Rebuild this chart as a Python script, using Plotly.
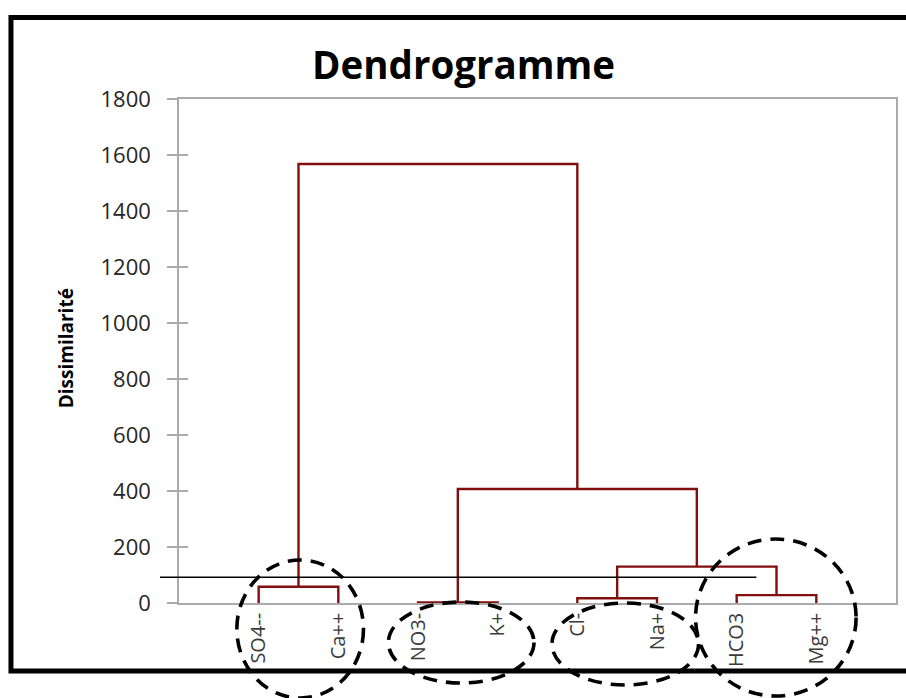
import plotly.graph_objects as go

# Leaves in dendrogram order
leaves = ["SO4--", "Ca++", "NO3-", "K+", "Cl-", "Na+", "HCO3", "Mg++"]

# Agglomeration steps (scipy-style: index < n is a leaf, index >= n is an earlier merge)
merge_left = [0, 2, 4, 6, 10, 9, 8]
merge_right = [1, 3, 5, 7, 11, 12, 13]
merge_height = [58, 2, 17, 28, 130, 407, 1568]

# Truncation level
cut_level = 92

y_ticks = [0, 200, 400, 600, 800, 1000, 1200, 1400, 1600, 1800]

# Geometry of the plotting area in pixels
W, H = 906, 698
L, R, T, B = 179, 898, 99, 603


def px(x):
    return (x - L) / (R - L)


def py(y):
    return (B - y) / (B - T)


n = len(leaves)
pos = {i: float(i) for i in range(n)}
hgt = {i: 0.0 for i in range(n)}

LINK = "#820f0f"
fig = go.Figure()
for k, (a, b, h) in enumerate(zip(merge_left, merge_right, merge_height)):
    xa, xb = pos[a], pos[b]
    fig.add_trace(go.Scatter(
        x=[xa, xa, xb, xb], y=[hgt[a], h, h, hgt[b]],
        mode="lines", line=dict(color=LINK, width=2.4),
        hoverinfo="skip", showlegend=False, cliponaxis=False,
    ))
    pos[n + k] = (xa + xb) / 2
    hgt[n + k] = h

# invisible trace carrying the inner half of the y tick marks
fig.add_trace(go.Scatter(x=[0], y=[0], yaxis="y2", mode="markers",
                         marker=dict(opacity=0), hoverinfo="skip", showlegend=False))

GRID = "#ababab"
fig.update_layout(
    width=W, height=H, autosize=False,
    margin=dict(l=L, r=W - R, t=T, b=H - B, pad=0),
    paper_bgcolor="white", plot_bgcolor="white",
    font=dict(family="Open Sans", color="#262626"),
    xaxis=dict(
        range=[-1, n], tickmode="array", tickvals=list(range(n)), ticktext=leaves,
        tickangle=-90, ticks="", showgrid=False, zeroline=False,
        showline=True, linecolor=GRID, linewidth=1.5, mirror=True,
        tickfont=dict(family="Open Sans", size=20, color="#3a3a3a"),
    ),
    yaxis=dict(
        range=[0, 1800], tickmode="array", tickvals=y_ticks,
        ticks="outside", ticklen=10, tickcolor=GRID, tickwidth=1.5,
        showgrid=False, zeroline=False,
        showline=True, linecolor=GRID, linewidth=1.5, mirror=True,
        tickfont=dict(family="Open Sans", size=22, color="#262626"),
        ticklabelstandoff=12,
    ),
    yaxis2=dict(
        range=[0, 1800], overlaying="y", side="left", tickmode="array", tickvals=y_ticks,
        ticks="inside", ticklen=9, tickcolor=GRID, tickwidth=1.5,
        showticklabels=False, showgrid=False, zeroline=False, showline=False,
    ),
)

shapes = [
    # outer frame of the chart
    dict(type="rect", xref="paper", yref="paper",
         x0=px(10.5), x1=px(915), y0=py(671), y1=py(17.5),
         line=dict(color="black", width=5), layer="above"),
    # truncation line
    dict(type="line", xref="paper", yref="y", x0=px(160), x1=px(758),
         y0=cut_level, y1=cut_level, line=dict(color="black", width=1.6), layer="above"),
]

# dashed ellipses around the four groups
groups = [(237, 364, 560, 698), (389, 535, 602, 683), (553, 700, 603, 685), (697, 858, 539, 696)]
for x0, x1, y0, y1 in groups:
    shapes.append(dict(type="circle", xref="paper", yref="paper",
                       x0=px(x0), x1=px(x1), y0=py(y1), y1=py(y0),
                       line=dict(color="black", width=3.6, dash="14px,9px"), layer="above"))
fig.update_layout(shapes=shapes)

fig.add_annotation(text="<b>Dendrogramme</b>", xref="paper", yref="paper",
                   x=px(464), y=py(64), xanchor="center", yanchor="middle",
                   showarrow=False, font=dict(family="Open Sans", size=38.5, color="black"))
fig.add_annotation(text="<b>Dissimilarité</b>", xref="paper", yref="paper",
                   x=px(66), y=py(348), xanchor="center", yanchor="middle", textangle=-90,
                   showarrow=False, font=dict(family="Open Sans", size=19, color="black"))

fig.write_html("out.html")
